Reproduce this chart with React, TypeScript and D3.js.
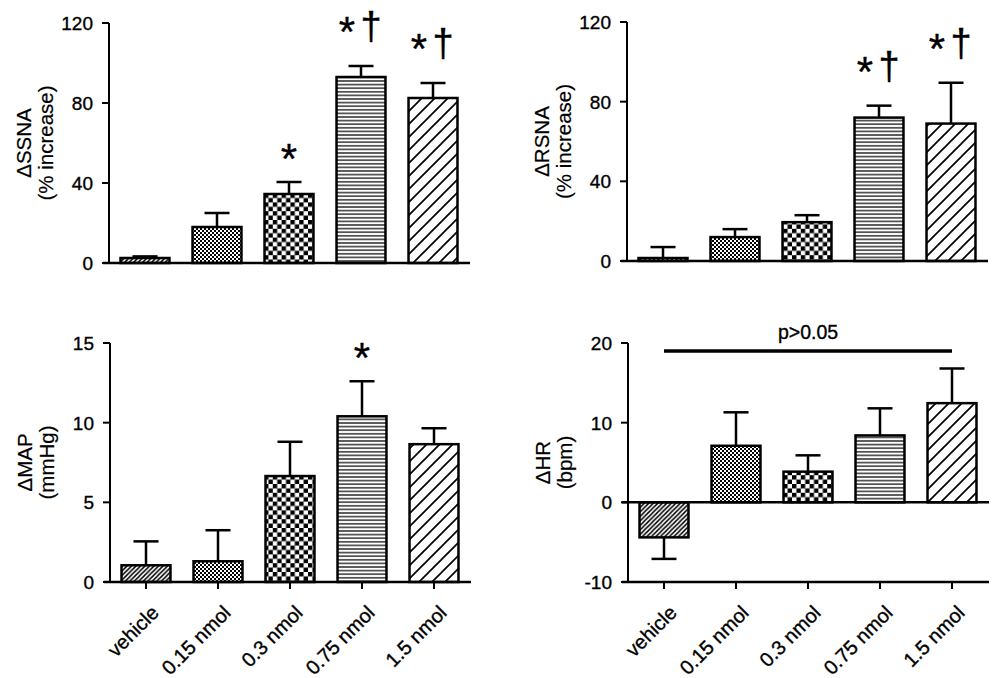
import React, { useRef, useEffect } from "react";
import * as d3 from "d3";

// dose groups (same in every panel)
const categories = ["vehicle", "0.15 nmol", "0.3 nmol", "0.75 nmol", "1.5 nmol"];

// ΔSSNA (% increase)
const ssnaMean = [2.5, 18, 34.5, 93, 82.5];
const ssnaSem = [0.8, 7, 6, 5.5, 7.5];
const ssnaTicks = [0, 40, 80, 120];
const ssnaMarks = ["", "", "*", "*†", "*†"];

// ΔRSNA (% increase)
const rsnaMean = [1.5, 12, 19.5, 72, 69];
const rsnaSem = [5.5, 4, 3.5, 6, 20.5];
const rsnaTicks = [0, 40, 80, 120];
const rsnaMarks = ["", "", "", "*†", "*†"];

// ΔMAP (mmHg)
const mapMean = [1.05, 1.3, 6.65, 10.4, 8.65];
const mapSem = [1.5, 1.95, 2.15, 2.2, 1.0];
const mapTicks = [0, 5, 10, 15];
const mapMarks = ["", "", "", "*", ""];

// ΔHR (bpm)
const hrMean = [-4.4, 7.1, 3.85, 8.4, 12.45];
const hrSem = [2.7, 4.2, 2.05, 3.4, 4.35];
const hrTicks = [-10, 0, 10, 20];
const hrMarks = ["", "", "", "", ""];
const hrNote = { text: "p>0.05", level: 19 };

const FONT = "'Liberation Sans', Arial, Helvetica, sans-serif";

type Panel = {
  mean: number[];
  sem: number[];
  ticks: number[];
  marks: string[];
  title: [string, string];
  left: number;
  top: number;
  bottom: number;
  showLabels: boolean;
  note?: { text: string; level: number };
};

const panels: Panel[] = [
  { mean: ssnaMean, sem: ssnaSem, ticks: ssnaTicks, marks: ssnaMarks, title: ["ΔSSNA", "(% increase)"], left: 109, top: 23, bottom: 263, showLabels: false },
  { mean: rsnaMean, sem: rsnaSem, ticks: rsnaTicks, marks: rsnaMarks, title: ["ΔRSNA", "(% increase)"], left: 627, top: 22, bottom: 261, showLabels: false },
  { mean: mapMean, sem: mapSem, ticks: mapTicks, marks: mapMarks, title: ["ΔMAP", "(mmHg)"], left: 110, top: 343, bottom: 582, showLabels: true },
  { mean: hrMean, sem: hrSem, ticks: hrTicks, marks: hrMarks, title: ["ΔHR", "(bpm)"], left: 628, top: 343, bottom: 582, showLabels: true, note: hrNote },
];

export default function App() {
  const svgRef = useRef<SVGSVGElement>(null);

  useEffect(() => {
    if (!svgRef.current) return;
    const svg = d3.select(svgRef.current);
    svg.selectAll("*").remove();

    // fill patterns, one per dose
    const defs = svg.append("defs");
    const pattern = (id: string, w: number, h: number) => {
      const p = defs
        .append("pattern")
        .attr("id", id)
        .attr("patternUnits", "userSpaceOnUse")
        .attr("width", w)
        .attr("height", h);
      p.append("rect").attr("width", w).attr("height", h).attr("fill", "#fff");
      return p;
    };
    const p0 = pattern("pat0", 4.5, 4.5);
    p0.append("path")
      .attr("d", "M-1,1 L1,-1 M0,4.5 L4.5,0 M3.5,5.5 L5.5,3.5")
      .attr("stroke", "#000")
      .attr("stroke-width", 1.5);
    const p1 = pattern("pat1", 4, 4);
    p1.append("rect").attr("width", 2).attr("height", 2).attr("fill", "#000");
    p1.append("rect").attr("x", 2).attr("y", 2).attr("width", 2).attr("height", 2).attr("fill", "#000");
    const p2 = pattern("pat2", 8.8, 8.8);
    p2.append("rect").attr("width", 4.4).attr("height", 4.4).attr("fill", "#000");
    p2.append("rect").attr("x", 4.4).attr("y", 4.4).attr("width", 4.4).attr("height", 4.4).attr("fill", "#000");
    const p3 = pattern("pat3", 4, 3.6);
    p3.append("rect").attr("y", 1.2).attr("width", 4).attr("height", 1.2).attr("fill", "#000");
    const p4 = pattern("pat4", 13, 13);
    p4.append("path")
      .attr("d", "M-2,2 L2,-2 M0,13 L13,0 M11,15 L15,11")
      .attr("stroke", "#000")
      .attr("stroke-width", 1.7);

    // slightly heavier text, like the scanned figure
    const ink = (t: d3.Selection<SVGTextElement, unknown, null, undefined>) =>
      t.attr("fill", "#000").attr("stroke", "#000").attr("stroke-width", 0.35);

    panels.forEach((p) => {
      const g = svg.append("g").attr("font-family", FONT);
      const x = d3
        .scaleBand<string>()
        .domain(categories)
        .range([p.left, p.left + 360])
        .paddingInner(0.32)
        .paddingOuter(0.16);
      const lo = p.ticks[0];
      const hi = p.ticks[p.ticks.length - 1];
      const y = d3.scaleLinear().domain([lo, hi]).range([p.bottom, p.top]);
      const cx = (c: string) => (x(c) ?? 0) + x.bandwidth() / 2;
      const bw = x.bandwidth();

      // bars
      categories.forEach((c, i) => {
        const v = p.mean[i];
        g.append("rect")
          .attr("x", x(c) ?? 0)
          .attr("y", Math.min(y(v), y(0)))
          .attr("width", bw)
          .attr("height", Math.abs(y(v) - y(0)))
          .attr("fill", `url(#pat${i})`)
          .attr("stroke", "#000")
          .attr("stroke-width", 2.5);

        // one-sided error bar
        const end = v + Math.sign(v) * p.sem[i];
        g.append("line")
          .attr("x1", cx(c))
          .attr("x2", cx(c))
          .attr("y1", y(v))
          .attr("y2", y(end))
          .attr("stroke", "#000")
          .attr("stroke-width", 2.5);
        g.append("line")
          .attr("x1", cx(c) - 12.5)
          .attr("x2", cx(c) + 12.5)
          .attr("y1", y(end))
          .attr("y2", y(end))
          .attr("stroke", "#000")
          .attr("stroke-width", 2.5);

        // significance marks
        const m = p.marks[i];
        if (m) {
          const errTop = y(end);
          const pair = m.includes("†");
          const starX = pair ? cx(c) - 14 : cx(c);
          const starC = pair ? errTop - 38 : errTop - 27;
          ink(
            g.append("text")
              .attr("x", starX)
              .attr("y", starC + 18)
              .attr("text-anchor", "middle")
              .attr("font-size", 42)
              .text("*")
          );
          if (pair) {
            ink(
              g.append("text")
                .attr("x", cx(c) + 10)
                .attr("y", errTop - 27)
                .attr("text-anchor", "middle")
                .attr("font-size", 38)
                .text("†")
            );
          }
        }
      });

      // y axis
      g.append("line")
        .attr("x1", p.left)
        .attr("x2", p.left)
        .attr("y1", y(hi))
        .attr("y2", y(lo))
        .attr("stroke", "#000")
        .attr("stroke-width", 2);
      p.ticks.forEach((t) => {
        g.append("line")
          .attr("x1", p.left - 7)
          .attr("x2", p.left)
          .attr("y1", y(t))
          .attr("y2", y(t))
          .attr("stroke", "#000")
          .attr("stroke-width", 2);
        ink(
          g.append("text")
            .attr("x", p.left - 16)
            .attr("y", y(t))
            .attr("dy", "0.36em")
            .attr("text-anchor", "end")
            .attr("font-size", 19)
            .text(String(t))
        );
      });

      // x axis (and zero line when the domain goes negative)
      const baseLines = lo < 0 ? [lo, 0] : [lo];
      baseLines.forEach((b) => {
        g.append("line")
          .attr("x1", p.left - 6)
          .attr("x2", p.left + 361)
          .attr("y1", y(b))
          .attr("y2", y(b))
          .attr("stroke", "#000")
          .attr("stroke-width", 2.5);
      });

      if (p.showLabels) {
        categories.forEach((c) => {
          g.append("line")
            .attr("x1", cx(c))
            .attr("x2", cx(c))
            .attr("y1", y(lo))
            .attr("y2", y(lo) + 7)
            .attr("stroke", "#000")
            .attr("stroke-width", 2);
          ink(
            g.append("text")
              .attr("transform", `translate(${cx(c) + 14},${y(lo) + 32}) rotate(-45)`)
              .attr("text-anchor", "end")
              .attr("font-size", 20)
              .text(c)
          );
        });
      }

      // axis title, two rotated lines
      const midY = (p.top + p.bottom) / 2;
      [p.title[0], p.title[1]].forEach((line, k) => {
        ink(
          g.append("text")
            .attr("transform", `translate(${p.left - (k === 0 ? 85 : 63)},${midY}) rotate(-90)`)
            .attr("dy", "0.35em")
            .attr("text-anchor", "middle")
            .attr("font-size", 20.5)
            .text(line)
        ).attr("stroke-width", 0.2);
      });

      // "no difference" bracket
      if (p.note) {
        const ny = y(p.note.level);
        g.append("line")
          .attr("x1", cx(categories[0]))
          .attr("x2", cx(categories[categories.length - 1]))
          .attr("y1", ny)
          .attr("y2", ny)
          .attr("stroke", "#000")
          .attr("stroke-width", 3.5);
        ink(
          g.append("text")
            .attr("x", (cx(categories[0]) + cx(categories[categories.length - 1])) / 2)
            .attr("y", ny - 12)
            .attr("text-anchor", "middle")
            .attr("font-size", 19.5)
            .text(p.note.text)
        );
      }
    });
  }, []);

  return (
    <svg
      ref={svgRef}
      width={992}
      height={678}
      style={{ position: "absolute", left: 0, top: 0, background: "#fff" }}
    />
  );
}
